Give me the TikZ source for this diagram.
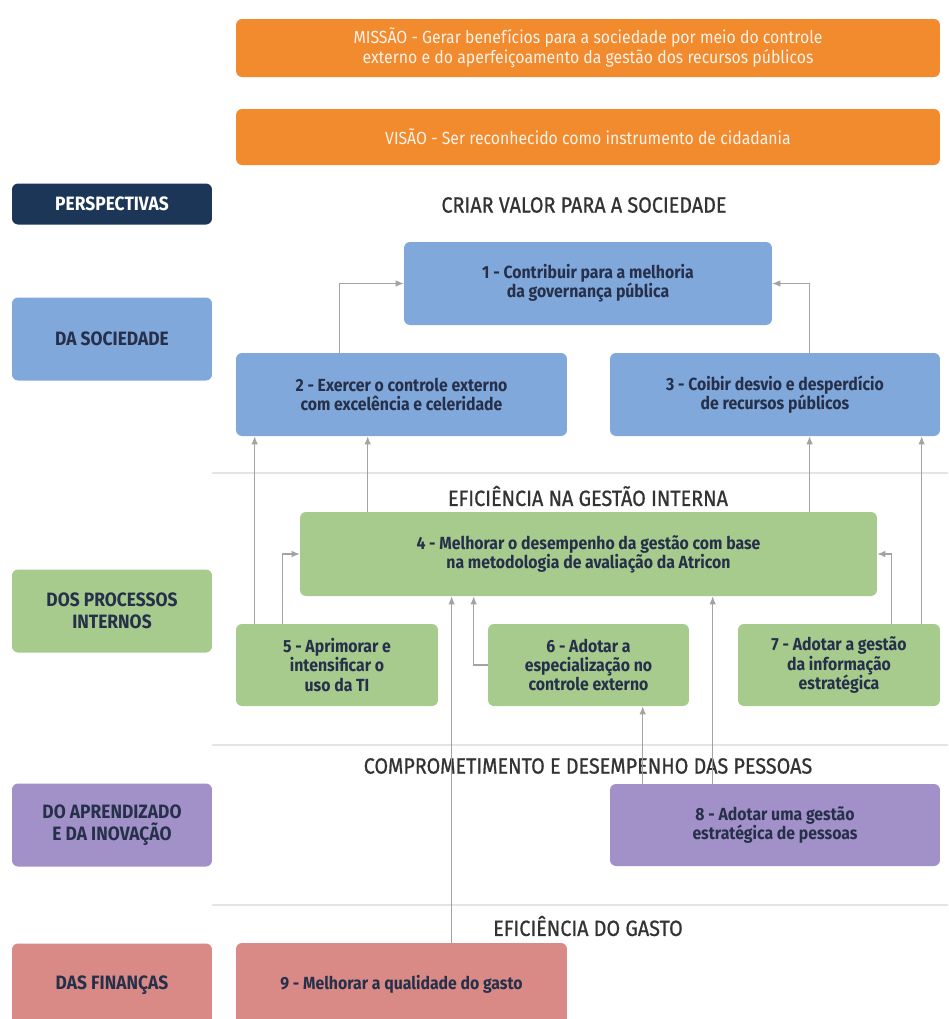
\documentclass[tikz,border=0pt]{standalone}
\usepackage{fontspec}
\setmainfont[FakeStretch=0.9]{Fira Sans}
\newfontfamily\medio[FakeStretch=0.9,FakeBold=0.8]{Fira Sans}
\definecolor{laranja}{HTML}{F28A2E}
\definecolor{marinho}{HTML}{1C3658}
\definecolor{azul}{HTML}{80A8DA}
\definecolor{verde}{HTML}{A6CB8D}
\definecolor{roxo}{HTML}{A291C8}
\definecolor{rosa}{HTML}{D98A86}
\definecolor{tinta}{HTML}{26304A}
\definecolor{seta}{HTML}{A3A3A3}
\definecolor{linha}{HTML}{E4E4E4}
\begin{document}
\begin{tikzpicture}[x=0.02cm,y=-0.02cm,
  caixa/.style={rounded corners=0.12cm,align=center,font=\fontsize{10}{11}\selectfont\bfseries,text=tinta,inner sep=0pt},
  topo/.style={caixa,fill=laranja,text=white!90!laranja,font=\fontsize{10}{11.5}\selectfont,minimum width=14.08cm},
  lado/.style={caixa,font=\fontsize{11}{12.5}\selectfont\bfseries,minimum width=4cm,minimum height=1.66cm},
  titulo/.style={font=\fontsize{12.5}{14}\selectfont\medio,text=black!80},
  arr/.style={draw=seta,line width=0.6pt,-{Latex[length=1.6mm,width=1.3mm]}}]
\usetikzlibrary{arrows.meta}
\clip (0,0) rectangle (948,1019);
\fill[white] (0,0) rectangle (948,1019);
\draw[linha,line width=1.2pt] (212,473) -- (948,473);
\draw[linha,line width=1.2pt] (212,745) -- (948,745);
\draw[linha,line width=1.2pt] (212,905) -- (948,905);
\node[topo,minimum height=1.16cm] (missao) at (588,48) {MISSÃO - Gerar benefícios para a sociedade por meio do controle\\externo e do aperfeiçoamento da gestão dos recursos públicos};
\node[topo,minimum height=1.12cm] (visao) at (588,137) {VISÃO - Ser reconhecido como instrumento de cidadania};
\node[caixa,fill=marinho,text=white,font=\fontsize{11}{12.5}\selectfont\bfseries,minimum width=4cm,minimum height=0.82cm] (persp) at (112,204) {PERSPECTIVAS};
\node[lado,fill=azul] (soc) at (112,339) {DA SOCIEDADE};
\node[lado,fill=verde] (proc) at (112,611) {DOS PROCESSOS\\INTERNOS};
\node[lado,fill=roxo] (apr) at (112,825) {DO APRENDIZADO\\E DA INOVAÇÃO};
\node[lado,fill=rosa] (fin) at (112,985) {DAS FINANÇAS};
\node[titulo] (t1) at (584,205) {CRIAR VALOR PARA A SOCIEDADE};
\node[titulo] (t2) at (588,496) {EFICIÊNCIA NA GESTÃO INTERNA};
\node[titulo] (t3) at (588,766) {COMPROMETIMENTO E DESEMPENHO DAS PESSOAS};
\node[titulo] (t4) at (588,926) {EFICIÊNCIA DO GASTO};
\node[caixa,fill=azul,minimum width=7.36cm,minimum height=1.66cm] (b1) at (588,283.5) {1 - Contribuir para a melhoria\\da governança pública};
\node[caixa,fill=azul,minimum width=6.62cm,minimum height=1.66cm] (b2) at (401.5,394.5) {2 - Exercer o controle externo\\com excelência e celeridade};
\node[caixa,fill=azul,minimum width=6.6cm,minimum height=1.66cm] (b3) at (775,394.5) {3 - Coibir desvio e desperdício\\de recursos públicos};
\node[caixa,fill=verde,minimum width=11.54cm,minimum height=1.68cm] (b4) at (588.5,554) {4 - Melhorar o desempenho da gestão com base\\na metodologia de avaliação da Atricon};
\node[caixa,fill=verde,minimum width=4.04cm,minimum height=1.64cm] (b5) at (337,665) {5 - Aprimorar e\\intensificar o\\uso da TI};
\node[caixa,fill=verde,minimum width=4.02cm,minimum height=1.64cm] (b6) at (588.5,665) {6 - Adotar a\\especialização no\\controle externo};
\node[caixa,fill=verde,minimum width=4.04cm,minimum height=1.64cm] (b7) at (839,665) {7 - Adotar a gestão\\da informação\\estratégica};
\node[caixa,fill=roxo,minimum width=6.6cm,minimum height=1.64cm] (b8) at (775,825) {8 - Adotar uma gestão\\estratégica de pessoas};
\node[caixa,fill=rosa,minimum width=6.62cm,minimum height=1.66cm] (b9) at (401.5,984.5) {9 - Melhorar a qualidade do gasto};
\draw[arr] ([xshift=2.08cm]b2.north west) |- (b1.west);
\draw[arr] ([xshift=4cm]b3.north west) |- (b1.east);
\draw[arr] ([xshift=0.38cm]b5.north west) coordinate (s5a) -- (s5a |- b2.south);
\draw[arr] ([xshift=1.36cm]b4.north west) coordinate (s4a) -- (s4a |- b2.south);
\draw[arr] ([xshift=10.2cm]b4.north west) coordinate (s4b) -- (s4b |- b3.south);
\draw[arr] ([xshift=3.68cm]b7.north west) coordinate (s7a) -- (s7a |- b3.south);
\draw[arr] ([xshift=0.94cm]b5.north west) |- (b4.west);
\draw[arr] ([xshift=3.08cm]b7.north west) |- (b4.east);
\draw[arr] (b6.west) -| ([xshift=3.48cm]b4.south west);
\draw[arr] ([xshift=4.32cm]b9.north west) coordinate (s9) -- (s9 |- b4.south);
\draw[arr] ([xshift=0.66cm]b8.north west) coordinate (s8a) -- (s8a |- b6.south);
\draw[arr] ([xshift=2.06cm]b8.north west) coordinate (s8b) -- (s8b |- b4.south);
\end{tikzpicture}
\end{document}
